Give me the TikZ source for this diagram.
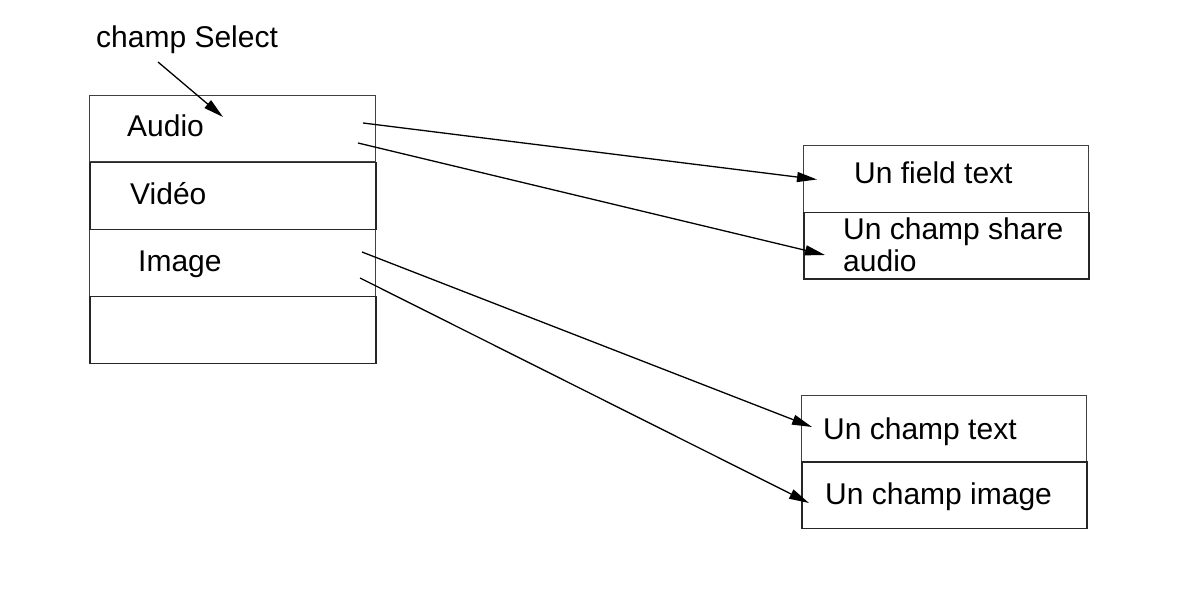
\documentclass[tikz,border=0pt]{standalone}
\usepackage{fontspec}
\setmainfont{Liberation Sans}
\usetikzlibrary{arrows.meta}
\begin{document}
\begin{tikzpicture}[x=1pt,y=-1pt,
  thinbox/.style={draw=black!75, line width=1pt, rectangle, anchor=north west, inner sep=0pt},
  thickbox/.style={draw=black!85, line width=1.6pt, rectangle, anchor=north west, inner sep=0pt},
  lbl/.style={anchor=base west, inner sep=0pt, font=\fontsize{30}{33}\selectfont},
  conn/.style={line width=1.3pt, -{Triangle[length=20pt,width=10pt]}}]
\useasboundingbox (0,0) rectangle (1180,607);
% left boxes
\node[thinbox, minimum width=286pt, minimum height=66pt] (b1) at (89,95) {};
\node[thinbox, minimum width=286pt, minimum height=67pt] (b3) at (89,228.5) {};
\node[thickbox, minimum width=286pt, minimum height=67pt] (b2) at (89,161.5) {};
\node[thickbox, minimum width=286pt, minimum height=67pt] (b4) at (89,295.5) {};
% right boxes
\node[thinbox, minimum width=285pt, minimum height=66.5pt] (r1) at (803,145) {};
\node[thickbox, minimum width=285pt, minimum height=66.5pt] (r2) at (803,211.5) {};
\node[thinbox, minimum width=285pt, minimum height=66.5pt] (r3) at (801,394.5) {};
\node[thickbox, minimum width=285pt, minimum height=66.5pt] (r4) at (801,461) {};
% labels
\node[lbl] (tsel) at (96,47.5) {champ Select};
\node[lbl] (t1) at (127,136.5) {Audio};
\node[lbl] (t2) at (130,204.5) {Vidéo};
\node[lbl] (t3) at (138,271.5) {Image};
\node[lbl] (u1) at (854,183) {Un field text};
\node[lbl] (u2) at (843,239.5) {Un champ share};
\node[lbl] (u2b) at (843,271.5) {audio};
\node[lbl] (u3) at (823,439) {Un champ text};
\node[lbl] (u4) at (825,504.5) {Un champ image};
% connector ends
\coordinate (s0) at (158,62);
\coordinate (e0) at (223,117);
\coordinate (s1) at (363,123);
\coordinate (e1) at (817,179.5);
\coordinate (s2) at (358,143);
\coordinate (e2) at (825,255);
\coordinate (s3) at (362,252);
\coordinate (e3) at (812,427);
\coordinate (s4) at (360,278);
\coordinate (e4) at (809,503);
\draw[conn] (s0) -- (e0);
\draw[conn] (s1) -- (e1);
\draw[conn] (s2) -- (e2);
\draw[conn] (s3) -- (e3);
\draw[conn] (s4) -- (e4);
\end{tikzpicture}
\end{document}
